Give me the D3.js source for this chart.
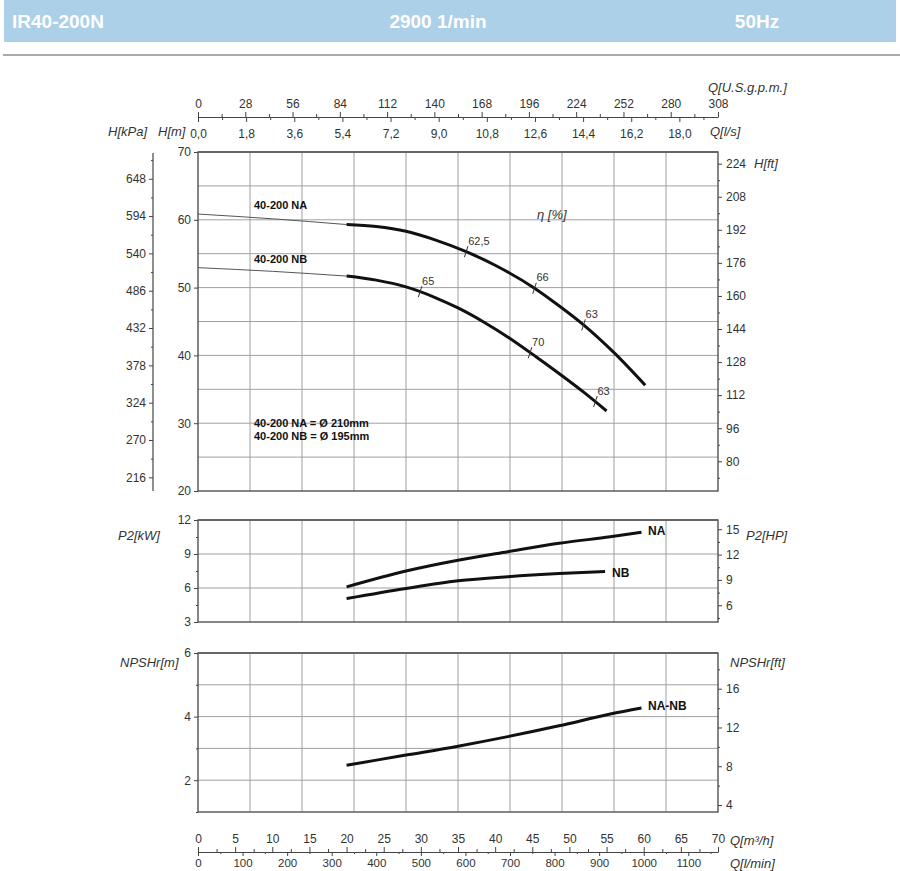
<!DOCTYPE html>
<html><head><meta charset="utf-8">
<script src="https://cdn.jsdelivr.net/npm/d3@7"></script>
<style>
body{margin:0;background:#fff}
svg{display:block}
text{font-family:"Liberation Sans",Arial,Helvetica,sans-serif}
</style>
</head><body>
<svg id="c" width="900" height="871"></svg>
<script>
// ---------- DATA ----------
const headerTexts = ["IR40-200N", "2900 1/min", "50Hz"];

// grids / ticks
const qGrid = d3.range(0, 71, 7);                 // m3/h
const hGrid = d3.range(20, 71, 5);                // m
const hTicks = [20, 30, 40, 50, 60, 70];
const kpaTicks = d3.range(216, 649, 54);
const kpaMinor = d3.range(243, 676, 54);
const ftTicks = d3.range(80, 225, 16);
const ftMinor = d3.range(72, 217, 16);
const gpmTicks = d3.range(0, 309, 28);
const gpmMinor = d3.range(14, 300, 28);
const lsTicks = d3.range(0, 18.01, 1.8);
const lsMinor = d3.range(0.9, 19.0, 1.8);
const m3hTicks = d3.range(0, 71, 5);
const m3hMinor = d3.range(2.5, 70, 5);
const lminTicks = d3.range(0, 1101, 100);
const lminMinor = d3.range(50, 1160, 100);
const p2Grid = [3, 6, 9, 12];
const p2Minor = [4.5, 7.5, 10.5];
const hpTicks = [6, 9, 12, 15];
const hpMinor = [4.5, 7.5, 10.5, 13.5];
const npshGrid = [1, 2, 3, 4, 5, 6];
const npshTicks = [2, 4, 6];
const npshMinor = [1, 3, 5];
const npshFtTicks = [4, 8, 12, 16];
const npshFtMinor = [6, 10, 14, 18];

// H-Q curves
const naExtQ = [0, 10, 20];
const naExtH = [60.85, 60.15, 59.3];
const naQ = [20, 24, 28, 32, 36.1, 40, 45.3, 48, 51.9, 56, 60.2];
const naH = [59.3, 59.0, 58.3, 57.0, 55.3, 53.3, 49.9, 47.8, 44.5, 40.4, 35.6];
const nbExtQ = [0, 10, 20];
const nbExtH = [52.94, 52.4, 51.7];
const nbQ = [20, 24, 28, 32, 35, 38.5, 42, 45.5, 49, 52, 55];
const nbH = [51.7, 51.1, 50.1, 48.5, 47.0, 44.9, 42.5, 39.8, 37.0, 34.5, 31.8];

// efficiency marks
const effNAQ = [36.1, 45.3, 51.9];
const effNAH = [55.3, 49.9, 44.5];
const effNALbl = ["62,5", "66", "63"];
const effNBQ = [29.9, 44.7, 53.5];
const effNBH = [49.4, 40.4, 33.2];
const effNBLbl = ["65", "70", "63"];

// P2 curves
const p2NAQ = [20, 28, 35, 41.7, 48.6, 55.5, 59.7];
const p2NA  = [6.1, 7.5, 8.45, 9.2, 9.94, 10.52, 10.91];
const p2NBQ = [20, 28, 35, 41.7, 48.6, 54.8];
const p2NB  = [5.07, 5.96, 6.63, 7.0, 7.28, 7.46];

// NPSH curve
const npshQ = [20, 28, 35, 41.7, 48.6, 55.5, 59.7];
const npsh  = [2.47, 2.79, 3.07, 3.37, 3.71, 4.08, 4.27];

// ---------- DRAW ----------
const svg = d3.select("#c");
const X0 = 198, X1 = 718;
const x = d3.scaleLinear([0, 70], [X0, X1]);
const yH = d3.scaleLinear([20, 70], [491, 152]);
const yP = d3.scaleLinear([3, 12], [622, 520]);
const yN = d3.scaleLinear([1, 6], [812, 653]);

const TXT = "#333", GRID = "#a0a0a0", FRAME = "#444";

// header
svg.append("rect").attr("x", 4).attr("y", 0).attr("width", 892).attr("height", 42).attr("fill", "#acd0e8");
const hf = '"Liberation Sans Narrow","Arial Narrow","DejaVu Sans Condensed",sans-serif';
svg.append("text").attr("x", 12).attr("y", 28).text(headerTexts[0])
  .attr("font-family", hf).attr("font-weight", "bold").attr("font-size", 19).attr("fill", "#fff");
svg.append("text").attr("x", 438).attr("y", 28).attr("text-anchor", "middle").text(headerTexts[1])
  .attr("font-family", hf).attr("font-weight", "bold").attr("font-size", 19).attr("fill", "#fff");
svg.append("text").attr("x", 757).attr("y", 28).attr("text-anchor", "middle").text(headerTexts[2])
  .attr("font-family", hf).attr("font-weight", "bold").attr("font-size", 19).attr("fill", "#fff");
svg.append("line").attr("x1", 3).attr("x2", 900).attr("y1", 55).attr("y2", 55)
  .attr("stroke", "#aaa").attr("stroke-width", 2);

function styleAxis(g, fs) {
  g.selectAll("path.domain").attr("stroke", FRAME).attr("stroke-width", 1.2);
  g.selectAll(".tick line").attr("stroke", FRAME);
  g.selectAll(".tick text").attr("fill", TXT).attr("font-size", fs || 12)
    .attr("font-family", '"Liberation Sans",Arial,sans-serif');
}
function axis(gen, scale, ticks, minor, fmt, tx, ty, size, pad, fs, domainShow) {
  const g = svg.append("g").attr("transform", `translate(${tx},${ty})`);
  g.call(gen(scale).tickValues(ticks).tickSize(size).tickSizeOuter(0).tickPadding(pad).tickFormat(fmt));
  if (!domainShow) g.select("path.domain").remove();
  if (minor && minor.length) {
    const gm = svg.append("g").attr("transform", `translate(${tx},${ty})`);
    gm.call(gen(scale).tickValues(minor).tickSize(Math.max(2, size - 2)).tickSizeOuter(0).tickFormat(""));
    gm.select("path.domain").remove();
    styleAxis(gm);
  }
  styleAxis(g, fs);
  return g;
}

// panel frames + grids
function panel(y, grid) {
  const [b, t] = y.range();
  const g = svg.append("g");
  g.selectAll("line.v").data(qGrid.slice(1, -1)).join("line")
    .attr("x1", d => x(d)).attr("x2", d => x(d)).attr("y1", t).attr("y2", b)
    .attr("stroke", GRID).attr("stroke-width", 1);
  g.selectAll("line.h").data(grid.filter(d => y(d) > t + 1 && y(d) < b - 1)).join("line")
    .attr("x1", X0).attr("x2", X1).attr("y1", d => y(d)).attr("y2", d => y(d))
    .attr("stroke", GRID).attr("stroke-width", 1);
  g.append("rect").attr("x", X0).attr("y", t).attr("width", X1 - X0).attr("height", b - t)
    .attr("fill", "none").attr("stroke", FRAME).attr("stroke-width", 1.3);
  g.append("line").attr("x1", X0).attr("x2", X1).attr("y1", t).attr("y2", t)
    .attr("stroke", "#666").attr("stroke-width", 2);
}
panel(yH, hGrid);
panel(yP, p2Grid);
panel(yN, npshGrid);

// top flow axes
const gpmScale = d3.scaleLinear([0, 308], [X0, X1]);
const lsScale = d3.scaleLinear([0, 70 / 3.6], [X0, X1]);
axis(d3.axisTop, gpmScale, gpmTicks, gpmMinor, d3.format("d"), 0, 117, 5, 4, 12, true);
axis(d3.axisBottom, lsScale, lsTicks, lsMinor, v => d3.format(".1f")(v).replace(".", ","), 0, 117, 5, 7, 12, false);

// bottom flow axes
const lminScale = d3.scaleLinear([0, 70 / 0.06], [X0, X1]);
axis(d3.axisTop, x, m3hTicks, m3hMinor, d3.format("d"), 0, 852, 5, 4, 12, true);
axis(d3.axisBottom, lminScale, lminTicks, lminMinor, d3.format("d"), 0, 852, 4, 3, 11.5, false);

// main H axes
axis(d3.axisLeft, yH, hTicks, [], d3.format("d"), X0, 0, 4, 3, 12, false);
const yKpa = d3.scaleLinear([20 * 9.81, 70 * 9.81], [491, 152]);
axis(d3.axisLeft, yKpa, kpaTicks, kpaMinor, d3.format("d"), 153, 0, 4, 3, 12, false);
svg.append("line").attr("x1", 153).attr("x2", 153).attr("y1", 153).attr("y2", 491)
  .attr("stroke", FRAME).attr("stroke-width", 1.2);
const yFt = d3.scaleLinear([20 * 3.2808, 70 * 3.2808], [491, 152]);
axis(d3.axisRight, yFt, ftTicks, ftMinor, d3.format("d"), X1, 0, 4, 4, 12, false);

// P2 axes
axis(d3.axisLeft, yP, p2Grid, p2Minor, d3.format("d"), X0, 0, 4, 3, 12, false);
const yHP = d3.scaleLinear([3 / 0.7457, 12 / 0.7457], [622, 520]);
axis(d3.axisRight, yHP, hpTicks, hpMinor, d3.format("d"), X1, 0, 4, 4, 12, false);

// NPSH axes
axis(d3.axisLeft, yN, npshTicks, npshMinor, d3.format("d"), X0, 0, 4, 3, 12, false);
const yNft = d3.scaleLinear([1 * 3.2808, 6 * 3.2808], [812, 653]);
axis(d3.axisRight, yNft, npshFtTicks, npshFtMinor, d3.format("d"), X1, 0, 4, 4, 12, false);

// axis titles
function title(t, tx, ty, anchor) {
  svg.append("text").attr("x", tx).attr("y", ty).text(t).attr("font-style", "italic")
    .attr("font-size", 13).attr("fill", TXT).attr("text-anchor", anchor || "start");
}
title("Q[U.S.g.p.m.]", 708, 92);
title("Q[l/s]", 710, 136);
title("H[kPa]", 108, 136);
title("H[m]", 158, 136);
title("H[ft]", 754, 168);
title("P2[kW]", 118, 540);
title("P2[HP]", 746, 540);
title("NPSHr[m]", 120, 667);
title("NPSHr[ft]", 730, 667);
title("Q[m³/h]", 730, 845);
title("Q[l/min]", 730, 868);

// curves
function curve(qs, vs, y, w, col) {
  const line = d3.line().x(d => x(d[0])).y(d => y(d[1])).curve(d3.curveMonotoneX);
  svg.append("path").attr("d", line(qs.map((q, i) => [q, vs[i]])))
    .attr("fill", "none").attr("stroke", col).attr("stroke-width", w).attr("stroke-linecap", "butt");
}
curve(naExtQ, naExtH, yH, 1, "#555");
curve(nbExtQ, nbExtH, yH, 1, "#555");
curve(naQ, naH, yH, 3, "#111");
curve(nbQ, nbH, yH, 3, "#111");
curve(p2NAQ, p2NA, yP, 3, "#111");
curve(p2NBQ, p2NB, yP, 3, "#111");
curve(npshQ, npsh, yN, 3, "#111");

// efficiency marks
function effMarks(qs, hs, lbls) {
  qs.forEach((q, i) => {
    const px = x(q), py = yH(hs[i]);
    svg.append("line").attr("x1", px - 1.8).attr("y1", py + 5.5).attr("x2", px + 1.8).attr("y2", py - 5.5)
      .attr("stroke", "#333").attr("stroke-width", 1);
    svg.append("text").attr("x", px + 2).attr("y", py - 7).text(lbls[i])
      .attr("font-size", 11).attr("fill", TXT);
  });
}
effMarks(effNAQ, effNAH, effNALbl);
effMarks(effNBQ, effNBH, effNBLbl);
svg.append("text").attr("x", 537).attr("y", 219).text("η [%]").attr("font-style", "italic")
  .attr("font-size", 13).attr("fill", TXT);

// curve labels
function bold(t, tx, ty, fs) {
  svg.append("text").attr("x", tx).attr("y", ty).text(t).attr("font-weight", "bold")
    .attr("font-size", fs || 11).attr("fill", "#111");
}
bold("40-200 NA", 254, 209);
bold("40-200 NB", 254, 263);
bold("40-200 NA = Ø 210mm", 254, 427);
bold("40-200 NB = Ø 195mm", 254, 440);
const nf = '"Liberation Sans Narrow","Arial Narrow",sans-serif';
svg.append("text").attr("x", 648).attr("y", 535).text("NA").attr("font-weight", "bold").attr("font-size", 12).attr("font-family", nf).attr("fill", "#111");
svg.append("text").attr("x", 612).attr("y", 577).text("NB").attr("font-weight", "bold").attr("font-size", 12).attr("font-family", nf).attr("fill", "#111");
svg.append("text").attr("x", 648).attr("y", 710).text("NA-NB").attr("font-weight", "bold").attr("font-size", 12).attr("font-family", nf).attr("fill", "#111");
</script>
</body></html>
